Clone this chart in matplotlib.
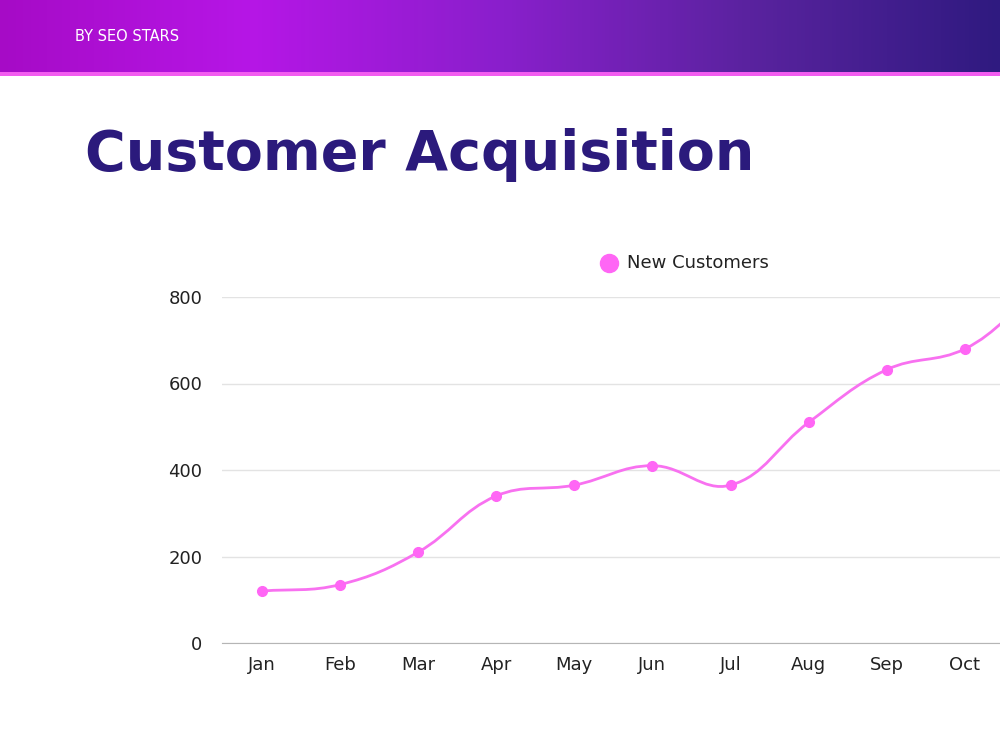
import numpy as np
import matplotlib.pyplot as plt
from matplotlib.path import Path
from matplotlib.patches import PathPatch
from matplotlib.colors import LinearSegmentedColormap

# Data
months = ["Jan", "Feb", "Mar", "Apr", "May", "Jun", "Jul", "Aug", "Sep", "Oct", "Nov", "Dec"]
new_customers = [120, 135, 210, 340, 365, 410, 365, 510, 632, 680, 810, 860]
y_ticks = [0, 200, 400, 600, 800]

# Styles
PINK = "#f871f0"
MARKER_PINK = "#ff66f5"
NAVY = "#2b1a7c"
TENSION = 0.4
PX_X = 78.1     # pixels per month
PX_Y = 0.4325   # pixels per customer


def smooth_path(xs, ys):
    # chart.js style bezier spline (tension 0.4), distances measured in pixels
    pts = np.column_stack([np.asarray(xs, float) * PX_X, np.asarray(ys, float) * PX_Y])
    n = len(pts)
    verts = [tuple(pts[0])]
    codes = [Path.MOVETO]
    cps = []
    for i in range(n):
        p0 = pts[max(i - 1, 0)]
        p1 = pts[i]
        p2 = pts[min(i + 1, n - 1)]
        d01 = np.hypot(*(p1 - p0))
        d12 = np.hypot(*(p2 - p1))
        tot = d01 + d12 if d01 + d12 > 0 else 1
        fa = TENSION * d01 / tot
        fb = TENSION * d12 / tot
        cps.append((p1 - fa * (p2 - p0), p1 + fb * (p2 - p0)))
    for i in range(1, n):
        verts += [tuple(cps[i - 1][1]), tuple(cps[i][0]), tuple(pts[i])]
        codes += [Path.CURVE4] * 3
    verts = np.array(verts)
    verts[:, 0] /= PX_X
    verts[:, 1] /= PX_Y
    return Path(verts, codes)


fig = plt.figure(figsize=(10, 7.5), dpi=100)

# Header band with gradient
hdr = fig.add_axes([0, 1 - 72 / 750, 1, 72 / 750])
cmap = LinearSegmentedColormap.from_list("hdr", ["#a60bc6", "#b616e6", "#8a1fcc", "#5a239f", "#2f1a80"])
hdr.imshow(np.linspace(0, 1, 256).reshape(1, -1), aspect="auto", cmap=cmap, extent=[0, 1, 0, 1])
hdr.set_axis_off()
hdr.text(0.075, 0.49, "BY SEO STARS", color="white", fontsize=10.5,
         family="DejaVu Sans", va="center", ha="left")
fig.add_artist(plt.Rectangle((0, 1 - 76 / 750), 1, 4 / 750, transform=fig.transFigure,
                             color="#f25cf0", lw=0))

# Title
fig.text(0.085, 1 - 155 / 750, "Customer Acquisition", color=NAVY, fontsize=40,
         fontweight="heavy", family="DejaVu Sans", va="center", ha="left")

# Chart
ax = fig.add_axes([0.222, 107 / 750, 0.778, 346 / 750])
x = np.arange(len(months))
ax.add_patch(PathPatch(smooth_path(x, new_customers), facecolor="none", edgecolor=PINK, lw=2))
ax.plot(x, new_customers, "o", color=MARKER_PINK, markersize=7, zorder=3)

ax.set_xticks(x)
ax.set_xticklabels(months)
ax.set_yticks(y_ticks)
ax.set_xlim(-0.51, 9.45)
ax.set_ylim(0, 800)
ax.grid(axis="y", color="#e3e3e3", lw=1)
ax.set_axisbelow(True)
for s in ["top", "right", "left"]:
    ax.spines[s].set_visible(False)
ax.spines["bottom"].set_color("#b5b5b5")
ax.tick_params(length=0, labelsize=13, colors="#222222", pad=9)
ax.tick_params(axis="y", pad=14)
for lbl in ax.get_xticklabels() + ax.get_yticklabels():
    lbl.set_family("DejaVu Sans")

# Legend
fig.text(0.627, 1 - 263 / 750, "New Customers", fontsize=13, color="#222222", va="center", ha="left")
fig.add_artist(plt.Line2D([0.609], [1 - 263 / 750], marker="o", markersize=13,
                          color=MARKER_PINK, transform=fig.transFigure))

fig.savefig("out.png", dpi=100)
